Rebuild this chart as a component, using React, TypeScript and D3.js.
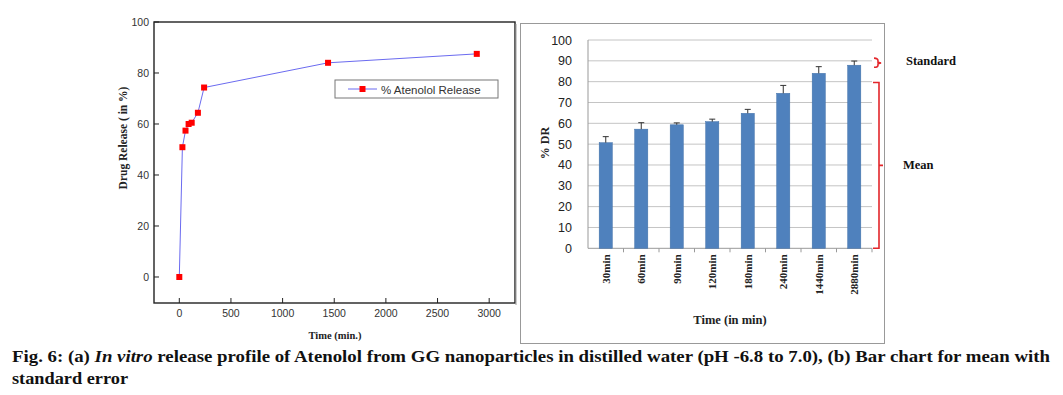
import * as d3 from "d3";
import React from "react";

// (a) release profile
const releaseTime = [0, 30, 60, 90, 120, 180, 240, 1440, 2880];
const releasePct = [0, 50.9, 57.4, 60.0, 60.5, 64.4, 74.3, 84.0, 87.5];
const leftXTicks = [0, 500, 1000, 1500, 2000, 2500, 3000];
const leftYTicks = [0, 20, 40, 60, 80, 100];

// (b) bar chart with standard error
const barCats = ["30min", "60min", "90min", "120min", "180min", "240min", "1440min", "2880min"];
const barMean = [50.7, 57.2, 59.3, 60.8, 64.8, 74.4, 84.0, 87.9];
const barErr = [2.9, 3.1, 0.9, 1.2, 1.9, 3.8, 3.2, 2.0];
const rightYTicks = [0, 10, 20, 30, 40, 50, 60, 70, 80, 90, 100];

const serif = "'Liberation Serif', 'DejaVu Serif', serif";
const sans = "'Liberation Sans', Arial, sans-serif";
const red = "#e3262b";

const App: React.FC = () => {
  // left panel scales
  const lx = d3.scaleLinear().domain([-245, 3250]).range([154, 515]);
  const ly = d3.scaleLinear().domain([-10.2, 100]).range([303, 22]);
  const line = d3
    .line<number>()
    .x((_, i) => lx(releaseTime[i]))
    .y((d) => ly(d));

  // right panel scales
  const bx = d3.scaleBand<string>().domain(barCats).range([588, 872]).paddingInner(0.63).paddingOuter(0.315);
  const step = bx.step();
  const by = d3.scaleLinear().domain([0, 100]).range([248.3, 40]);

  return (
    <svg width={1063} height={395} style={{ position: "absolute", left: 0, top: 0, background: "#fff" }}>
      <rect width={1063} height={395} fill="#fff" />

      {/* ---------- (a) ---------- */}
      <rect x={154} y={22} width={361} height={281} fill="none" stroke="#222" strokeWidth={1.4} />
      <line x1={516} y1={24} x2={516} y2={305} stroke="#999" strokeWidth={1} />
      {leftYTicks.map((t) => (
        <g key={t}>
          <line x1={154} x2={159} y1={ly(t)} y2={ly(t)} stroke="#222" />
          <text x={149} y={ly(t) + 4} textAnchor="end" fontFamily={sans} fontSize={10.5} fill="#333">
            {t}
          </text>
        </g>
      ))}
      {leftXTicks.map((t) => (
        <g key={t}>
          <line x1={lx(t)} x2={lx(t)} y1={303} y2={298} stroke="#222" />
          <text x={lx(t)} y={317} textAnchor="middle" fontFamily={sans} fontSize={10.5} fill="#333">
            {t}
          </text>
        </g>
      ))}
      <path d={line(releasePct) || ""} fill="none" stroke="#6b6bf0" strokeWidth={1} />
      {releasePct.map((v, i) => (
        <rect key={i} x={lx(releaseTime[i]) - 3} y={ly(v) - 3} width={6} height={6} fill="#f00" />
      ))}
      <text
        transform="translate(127,138) rotate(-90)"
        textAnchor="middle"
        fontFamily={serif}
        fontWeight="bold"
        fontSize={11.5}
        fill="#222"
      >
        Drug Release ( in %)
      </text>
      <text x={335} y={339} textAnchor="middle" fontFamily={serif} fontWeight="bold" fontSize={10.5} fill="#222">
        Time (min.)
      </text>
      {/* legend */}
      <rect x={335} y={80} width={163} height={18} fill="#fff" stroke="#777" strokeWidth={1} />
      <line x1={348} x2={377} y1={89} y2={89} stroke="#6b6bf0" />
      <rect x={359.5} y={86} width={6} height={6} fill="#f00" />
      <text x={381} y={93.5} fontFamily={sans} fontSize={11.5} fill="#333">
        % Atenolol Release
      </text>

      {/* ---------- (b) ---------- */}
      <rect x={520.5} y={23.5} width={364} height={320} fill="none" stroke="#999" strokeWidth={1} />
      {rightYTicks.map((t) => (
        <g key={t}>
          {t > 0 && <line x1={588} x2={872} y1={by(t)} y2={by(t)} stroke="#c4c4c4" strokeWidth={1} />}
          <text x={572} y={by(t) + 4.5} textAnchor="end" fontFamily={sans} fontSize={12.5} fill="#222">
            {t}
          </text>
        </g>
      ))}
      <line x1={588} x2={588} y1={by(100)} y2={by(0)} stroke="#999" />
      <line x1={588} x2={872} y1={by(0)} y2={by(0)} stroke="#999" />
      {barCats.map((_, i) => (
        <line key={i} x1={588 + step * (i + 1)} x2={588 + step * (i + 1)} y1={by(0)} y2={by(0) + 4} stroke="#999" />
      ))}
      {barCats.map((c, i) => {
        const x = bx(c) || 0;
        const cx = x + bx.bandwidth() / 2;
        return (
          <g key={c}>
            <rect x={x} y={by(barMean[i])} width={bx.bandwidth()} height={by(0) - by(barMean[i])} fill="#4f81bd" stroke="#3f6fa8" strokeWidth={0.5} />
            <line x1={cx} x2={cx} y1={by(barMean[i])} y2={by(barMean[i] + barErr[i])} stroke="#333" />
            <line x1={cx - 3} x2={cx + 3} y1={by(barMean[i] + barErr[i])} y2={by(barMean[i] + barErr[i])} stroke="#333" />
            <text
              transform={`translate(${cx + 4},${by(0) + 6}) rotate(-90)`}
              textAnchor="end"
              fontFamily={serif}
              fontWeight="bold"
              fontSize={11}
              fill="#222"
            >
              {c}
            </text>
          </g>
        );
      })}
      <text
        transform="translate(549,143) rotate(-90)"
        textAnchor="middle"
        fontFamily={serif}
        fontWeight="bold"
        fontSize={12}
        fill="#222"
      >
        % DR
      </text>
      <text x={730} y={324} textAnchor="middle" fontFamily={serif} fontWeight="bold" fontSize={12.5} fill="#222">
        Time (in min)
      </text>

      {/* brackets */}
      <path
        d={`M874,${by(91.3)} Q878,${by(91.3)} 878,${by(90)} L878,${by(89.3)} L881,${by(89)} L878,${by(88.6)} L878,${by(87.9)} Q878,${by(86.9)} 874,${by(86.9)}`}
        fill="none"
        stroke={red}
        strokeWidth={1.6}
      />
      <path
        d={`M873,${by(79.6)} L879,${by(79.6)} L879,${by(0)} L873,${by(0)} M879,${by(39.8)} L883,${by(39.8)}`}
        fill="none"
        stroke={red}
        strokeWidth={1.6}
      />
      <text x={906} y={65} fontFamily={serif} fontWeight="bold" fontSize={12.5} fill="#111">
        Standard
      </text>
      <text x={903} y={169} fontFamily={serif} fontWeight="bold" fontSize={12.5} fill="#111">
        Mean
      </text>

      {/* caption */}
      <text x={12} y={362} fontFamily={serif} fontWeight="bold" fontSize={16} fill="#111" textLength={1038} lengthAdjust="spacingAndGlyphs">
        Fig. 6: (a) <tspan fontStyle="italic">In vitro</tspan> release profile of Atenolol from GG nanoparticles in distilled water (pH -6.8 to
        7.0), (b) Bar chart for mean with
      </text>
      <text x={12} y={384} fontFamily={serif} fontWeight="bold" fontSize={16} fill="#111" textLength={116} lengthAdjust="spacingAndGlyphs">
        standard error
      </text>
    </svg>
  );
};

export default App;
